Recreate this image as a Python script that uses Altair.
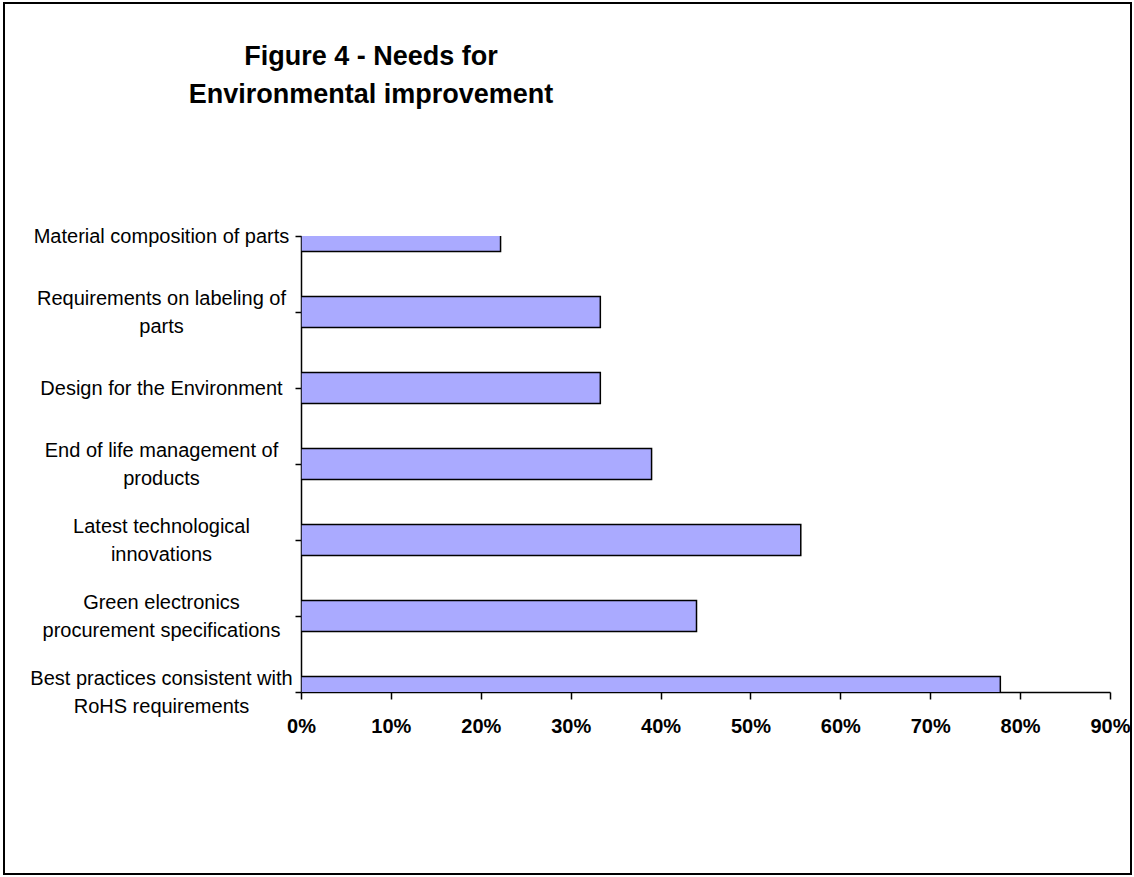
import json
import altair as alt
import pandas as pd

# ---- data (bottom to top) ----
category_lines = [
    ["Best practices consistent with", "RoHS requirements"],
    ["Green electronics", "procurement specifications"],
    ["Latest technological", "innovations"],
    ["End of life management of", "products"],
    ["Design for the Environment"],
    ["Requirements on labeling of", "parts"],
    ["Material composition of parts"],
]
shares = [0.778, 0.44, 0.556, 0.39, 0.333, 0.333, 0.222]
x_ticks = [0.0, 0.1, 0.2, 0.3, 0.4, 0.5, 0.6, 0.7, 0.8, 0.9]
title_lines = ["Figure 4 - Needs  for", "Environmental improvement"]

W, H = 809, 456
FONT = "Liberation Sans"
BAR_HALF = 0.204
LINE_H = 28

df = pd.DataFrame({
    "pos": list(range(len(shares))),
    "share": shares,
    "category": [" ".join(c) for c in category_lines],
})

lines_js = json.dumps(category_lines)
label_expr = lines_js + "[datum.value]"
multi_test = f"{lines_js}[datum.value].length > 1"

bars = (
    alt.Chart(df)
    .transform_calculate(
        y0=f"datum.pos - {BAR_HALF}",
        y1=f"datum.pos + {BAR_HALF}",
        zero="0",
    )
    .mark_rect(clip=True, color="#AAAAFF", stroke="black", strokeWidth=1.5)
    .encode(
        x=alt.X(
            "zero:Q",
            scale=alt.Scale(domain=[0, 0.9], nice=False, zero=True),
            axis=alt.Axis(
                values=x_ticks,
                format=".0%",
                title=None,
                grid=False,
                labelFont=FONT,
                labelFontSize=20,
                labelFontWeight="bold",
                labelColor="black",
                labelPadding=17,
                labelFlush=False,
                tickSize=7,
                tickColor="black",
                tickWidth=1.5,
                domainColor="black",
                domainWidth=1.5,
            ),
        ),
        x2="share:Q",
        y=alt.Y(
            "y0:Q",
            scale=alt.Scale(domain=[0, 6], nice=False, zero=False),
            axis=alt.Axis(
                values=list(range(len(shares))),
                labelExpr=label_expr,
                title=None,
                grid=False,
                labelFont=FONT,
                labelFontSize=20,
                labelColor="black",
                labelAlign="center",
                labelBaseline="middle",
                labelLineHeight=LINE_H,
                labelOffset={"condition": {"test": multi_test, "value": -LINE_H / 2}, "value": 0},
                labelPadding=134,
                labelFlush=False,
                labelOverlap=False,
                labelLimit=400,
                tickSize=6,
                tickColor="black",
                tickWidth=1.5,
                domainColor="black",
                domainWidth=1.5,
            ),
        ),
        y2="y1:Q",
        tooltip=["category:N", alt.Tooltip("share:Q", format=".1%")],
    )
)

one = pd.DataFrame({"k": [0]})

title = (
    alt.Chart(one)
    .mark_text(
        text=title_lines,
        font=FONT,
        fontSize=27,
        fontWeight="bold",
        align="center",
        baseline="middle",
        lineHeight=38,
        color="black",
    )
    .encode(x=alt.value(70), y=alt.value(-179))
)

frame = (
    alt.Chart(one)
    .mark_rect(fillOpacity=0, stroke="black", strokeWidth=2)
    .encode(
        x=alt.value(-297),
        x2=alt.value(830),
        y=alt.value(-233),
        y2=alt.value(638),
    )
)

chart = (
    alt.layer(frame, bars, title)
    .properties(
        width=W,
        height=H,
        autosize=alt.AutoSizeParams(type="none"),
        padding={"left": 301, "top": 236, "right": 24, "bottom": 185},
        background="white",
    )
    .configure_view(strokeOpacity=0)
)

chart.save("out.html", embed_options={"renderer": "svg", "actions": False})
